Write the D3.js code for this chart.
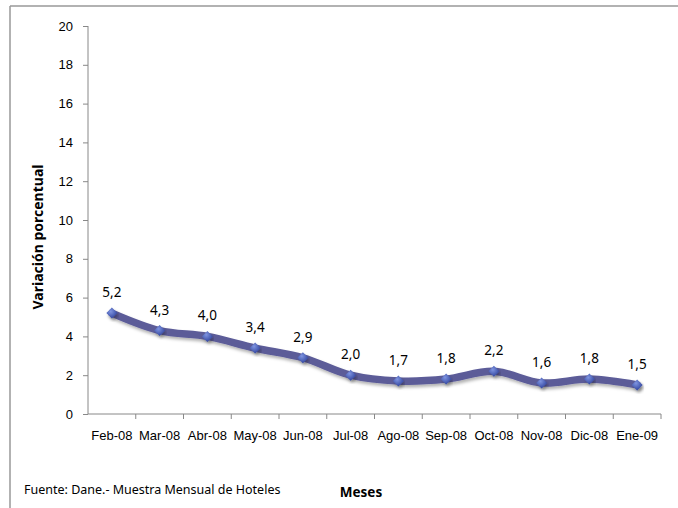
<!DOCTYPE html>
<html>
<head>
<meta charset="utf-8">
<script src="https://cdn.jsdelivr.net/npm/d3@7"></script>
<style>
  body { margin: 0; background: #fff; }
  svg { display: block; font-family: "Noto Sans", "Open Sans", sans-serif; }
  .axis path, .axis line { stroke: #888; }
  .axis text { fill: #000; font-size: 13px; }
</style>
</head>
<body>
<div id="chart"></div>
<script>
const months = ["Feb-08", "Mar-08", "Abr-08", "May-08", "Jun-08", "Jul-08", "Ago-08", "Sep-08", "Oct-08", "Nov-08", "Dic-08", "Ene-09"];
const values = [5.2, 4.3, 4.0, 3.4, 2.9, 2.0, 1.7, 1.8, 2.2, 1.6, 1.8, 1.5];
const yTicks = [0, 2, 4, 6, 8, 10, 12, 14, 16, 18, 20];

const W = 678, H = 508;
const margin = { top: 26, right: 17, bottom: 94, left: 88 };
const width = W - margin.left - margin.right;
const height = H - margin.top - margin.bottom;

const root = d3.select("#chart").append("svg")
  .attr("width", W)
  .attr("height", H);

const defs = root.append("defs");
const shadow = defs.append("filter").attr("id", "shadow")
  .attr("x", "-10%").attr("y", "-30%").attr("width", "120%").attr("height", "160%");
shadow.append("feDropShadow")
  .attr("dx", 1.5).attr("dy", 2.5).attr("stdDeviation", 1.6)
  .attr("flood-color", "#000").attr("flood-opacity", 0.3);

const grad = defs.append("radialGradient").attr("id", "mk").attr("cx", "40%").attr("cy", "35%").attr("r", "70%");
grad.append("stop").attr("offset", "0%").attr("stop-color", "#7f94e0");
grad.append("stop").attr("offset", "100%").attr("stop-color", "#2b3f9a");

// outer frame (top and left edges visible)
root.append("line").attr("x1", 10).attr("x2", W).attr("y1", 6).attr("y2", 6)
  .attr("stroke", "#999").attr("stroke-width", 1.5);
root.append("line").attr("x1", 10).attr("x2", 10).attr("y1", 6).attr("y2", H)
  .attr("stroke", "#999").attr("stroke-width", 1.5);

const svg = root.append("g").attr("transform", `translate(${margin.left},${margin.top})`);

const x = d3.scaleBand().domain(months).range([0, width]);
const y = d3.scaleLinear().domain([0, 20]).range([height, 0]);

svg.append("g")
  .attr("class", "axis")
  .call(d3.axisLeft(y).tickValues(yTicks).tickSize(5).tickPadding(10))
  .call(g => g.select(".domain").attr("d", `M0,0V${height}`));

const xAxis = svg.append("g")
  .attr("class", "axis")
  .attr("transform", `translate(0,${height})`)
  .call(d3.axisBottom(x).tickSize(0).tickPadding(17))
  .call(g => g.select(".domain").attr("d", `M0,0H${width}V5`));

// boundary ticks between categories
xAxis.selectAll(".bt")
  .data(months.slice(1))
  .join("line")
  .attr("x1", d => x(d)).attr("x2", d => x(d))
  .attr("y1", 0).attr("y2", 5)
  .attr("stroke", "#888");

const cx = d => x(d) + x.bandwidth() / 2;
const pts = months.map((m, i) => ({ m, v: values[i] }));

svg.append("path")
  .datum(pts)
  .attr("fill", "none")
  .attr("stroke", "#5b5b98")
  .attr("stroke-width", 7.5)
  .attr("stroke-linejoin", "round")
  .attr("stroke-linecap", "round")
  .attr("filter", "url(#shadow)")
  .attr("d", d3.line().x(d => cx(d.m)).y(d => y(d.v)).curve(d3.curveCatmullRom.alpha(0.5)));

svg.selectAll(".mk")
  .data(pts)
  .join("path")
  .attr("class", "mk")
  .attr("transform", d => `translate(${cx(d.m)},${y(d.v)})`)
  .attr("d", "M0,-5.5L5.5,0L0,5.5L-5.5,0Z")
  .attr("fill", "url(#mk)")
  .attr("filter", "url(#shadow)");

svg.selectAll(".lbl")
  .data(pts)
  .join("text")
  .attr("class", "lbl")
  .attr("x", d => cx(d.m))
  .attr("y", d => y(d.v) - 16)
  .attr("text-anchor", "middle")
  .style("font-size", "13.5px")
  .text(d => d3.format(".1f")(d.v).replace(".", ","));

root.append("text")
  .attr("transform", "translate(38,237) rotate(-90)")
  .attr("text-anchor", "middle")
  .attr("dy", "0.35em")
  .style("font-size", "14px")
  .style("font-weight", "bold")
  .text("Variación porcentual");

root.append("text")
  .attr("x", 361).attr("y", 497)
  .attr("text-anchor", "middle")
  .style("font-size", "13.5px")
  .style("font-weight", "bold")
  .text("Meses");

root.append("text")
  .attr("x", 24).attr("y", 494)
  .style("font-size", "12.5px")
  .text("Fuente: Dane.- Muestra Mensual de Hoteles");
</script>
</body>
</html>
